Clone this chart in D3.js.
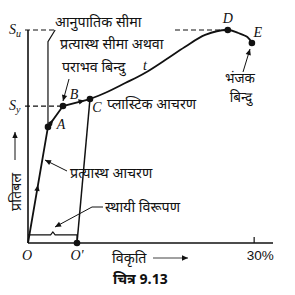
<!DOCTYPE html>
<html><head><meta charset="utf-8">
<script src="https://cdn.jsdelivr.net/npm/d3@7"></script>
<style>
body{margin:0;background:#fff;}
svg{display:block;}
.dev{font-family:"Noto Sans Devanagari","Lohit Devanagari","Mukta","Noto Sans",sans-serif;font-size:14.3px;fill:#111;}
.lat{font-family:"Liberation Serif","DejaVu Serif",serif;font-style:italic;font-size:14px;fill:#111;}
</style></head>
<body>
<svg id="c" width="295" height="295"></svg>
<script>
// ---- data (strain in %, stress as % of ultimate stress Su) ----
const loadingPath = [[0,0],[2.65,54.5],[4.64,64.3],[8.22,67.6]];
const plasticCurve = [[8.22,67.6],[10.2,70.4],[12.9,75.1],[15.5,79.8],[18.2,85.9],[20.8,92.0],[23.5,97.7],[26.5,100],[27.9,98.6],[29.1,96.7],[29.7,93.9]];
const unloadLine = [[8.22,67.6],[6.5,0]];
const keyPoints = [
  {name:"A", x:2.65, y:54.5},
  {name:"B", x:4.64, y:64.3},
  {name:"C", x:8.22, y:67.6},
  {name:"D", x:26.5, y:100},
  {name:"E", x:29.7, y:93.9},
  {name:"O'", x:6.5, y:0}
];
const stressLevels = [{name:"u", y:100},{name:"y", y:64.3}];
const xTicks = [30];
const xTickLabels = ["30%"];
const texts = {
  prop:"आनुपातिक सीमा", elastic1:"प्रत्यास्थ सीमा अथवा", elastic2:"पराभव बिन्दु",
  plastic:"प्लास्टिक आचरण", elasticBeh:"प्रत्यास्थ आचरण", perm:"स्थायी विरूपण",
  frac1:"भंजक", frac2:"बिन्दु", stress:"प्रतिबल", strain:"विकृति", fig:"चित्र 9.13"
};

const svg = d3.select("#c");
const x = d3.scaleLinear().domain([0,32.5]).range([28,273]);
const y = d3.scaleLinear().domain([0,100]).range([243,30]);
const line = d3.line().x(d=>x(d[0])).y(d=>y(d[1]));

function arrowHead(px,py,angle,size=6){
  const a=angle, s=size;
  const p1=[px - s*Math.cos(a) + s*0.45*Math.sin(a), py - s*Math.sin(a) - s*0.45*Math.cos(a)];
  const p2=[px - s*Math.cos(a) - s*0.45*Math.sin(a), py - s*Math.sin(a) + s*0.45*Math.cos(a)];
  svg.append("path").attr("d",`M${px},${py}L${p1[0]},${p1[1]}L${p2[0]},${p2[1]}Z`).attr("fill","#111");
}
function arrowLine(x1,y1,x2,y2,size=6,w=1){
  svg.append("line").attr("x1",x1).attr("y1",y1).attr("x2",x2).attr("y2",y2).attr("stroke","#111").attr("stroke-width",w);
  arrowHead(x2,y2,Math.atan2(y2-y1,x2-x1),size);
}
function arrowOn(p,q,t){
  const px=x(p[0])+(x(q[0])-x(p[0]))*t, py=y(p[1])+(y(q[1])-y(p[1]))*t;
  arrowHead(px,py,Math.atan2(y(q[1])-y(p[1]),x(q[0])-x(p[0])),6);
}

// axes
svg.append("line").attr("x1",x(0)).attr("x2",x(32.5)).attr("y1",y(0)).attr("y2",y(0)).attr("stroke","#111").attr("stroke-width",1.6);
svg.append("line").attr("x1",x(0)).attr("x2",x(0)).attr("y1",y(0)).attr("y2",y(100)).attr("stroke","#111").attr("stroke-width",1.6);
xTicks.forEach((t,i)=>{
  svg.append("line").attr("x1",x(t)).attr("x2",x(t)).attr("y1",y(0)).attr("y2",y(0)-6).attr("stroke","#111").attr("stroke-width",1.2);
  svg.append("text").attr("x",x(t)+6).attr("y",y(0)+17).attr("text-anchor","middle")
    .style("font-family","Liberation Sans, Arial, sans-serif").style("font-size","13.5px").attr("fill","#111").text(xTickLabels[i]);
});

// stress level dashed lines & labels
const su=stressLevels[0], sy=stressLevels[1];
svg.append("line").attr("x1",x(0)-3).attr("x2",x(3.6)).attr("y1",y(su.y)).attr("y2",y(su.y)).attr("stroke","#111").attr("stroke-width",1.2).attr("stroke-dasharray","5,3");
svg.append("line").attr("x1",x(19.5)).attr("x2",x(26.5)).attr("y1",y(su.y)).attr("y2",y(su.y)).attr("stroke","#111").attr("stroke-width",1.2).attr("stroke-dasharray","5,3");
svg.append("line").attr("x1",x(0)-3).attr("x2",x(4.64)).attr("y1",y(sy.y)).attr("y2",y(sy.y)).attr("stroke","#111").attr("stroke-width",1.2).attr("stroke-dasharray","5,3");
stressLevels.forEach(s=>{
  const t=svg.append("text").attr("class","lat").attr("x",9).attr("y",y(s.y)+4);
  t.append("tspan").text("S");
  t.append("tspan").attr("dy",3).style("font-size","10px").text(s.name);
});

// proportional limit leader
svg.append("path").attr("d",`M${x(3.6)},${y(100)} L${x(2.65)},${y(94.5)} L${x(2.65)},${y(54.5)}`).attr("fill","none").attr("stroke","#111").attr("stroke-width",1.2);

// curves
svg.append("path").attr("d",line(loadingPath)).attr("fill","none").attr("stroke","#111").attr("stroke-width",1.8);
svg.append("path").attr("d",line.curve(d3.curveCatmullRom)(plasticCurve)).attr("fill","none").attr("stroke","#111").attr("stroke-width",1.8);
line.curve(d3.curveLinear);
svg.append("path").attr("d",line(unloadLine)).attr("fill","none").attr("stroke","#111").attr("stroke-width",1.5);

// arrows along curve
arrowOn(loadingPath[0],loadingPath[1],0.5);
arrowOn(loadingPath[1],loadingPath[2],0.35);
arrowOn(loadingPath[2],loadingPath[3],0.8);

// points
svg.selectAll("circle.pt").data(keyPoints).join("circle").attr("class","pt")
  .attr("cx",d=>x(d.x)).attr("cy",d=>y(d.y)).attr("r",3.3).attr("fill","#111");

// point labels
const lblOff={A:[13,-3],B:[11,-12],C:[7,8],D:[0,-12],E:[6,-11]};
keyPoints.filter(d=>lblOff[d.name]).forEach(d=>{
  svg.append("text").attr("class","lat").attr("x",x(d.x)+lblOff[d.name][0]).attr("y",y(d.y)+lblOff[d.name][1]+5)
    .attr("text-anchor","middle").text(d.name);
});
svg.append("text").attr("class","lat").attr("x",x(0)-1).attr("y",y(0)+17).attr("text-anchor","middle").text("O");
svg.append("text").attr("class","lat").attr("x",x(6.5)).attr("y",y(0)+17).attr("text-anchor","middle").text("O'");
svg.append("text").attr("class","lat").attr("x",145).attr("y",70).attr("text-anchor","middle").text("t");

// brace for permanent set
const by=y(3.8);
svg.append("path").attr("d",`M${x(0)},${by} L${x(3.0)},${by} L${x(3.3)},${by-3} L${x(3.6)},${by} L${x(6.5)},${by} L${x(6.5)},${y(0)}`).attr("fill","none").attr("stroke","#111").attr("stroke-width",1.2);

// annotation texts
svg.append("text").attr("class","dev").attr("x",55).attr("y",27).text(texts.prop);
svg.append("text").attr("class","dev").attr("x",60).attr("y",49).text(texts.elastic1);
svg.append("text").attr("class","dev").attr("x",62).attr("y",72).text(texts.elastic2);
arrowLine(69,79,63,101,6);
svg.append("text").attr("class","dev").attr("x",107).attr("y",109).text(texts.plastic);
svg.append("text").attr("class","dev").attr("x",70).attr("y",178).text(texts.elasticBeh);
arrowLine(67,171,45,160,6);
svg.append("text").attr("class","dev").attr("x",105).attr("y",212).text(texts.perm);
svg.append("path").attr("d","M103,207 L92,207").attr("stroke","#111").attr("stroke-width",1);
arrowLine(92,207,55,227,6);
svg.append("text").attr("class","dev").style("font-size","13.5px").attr("x",240).attr("y",83).attr("text-anchor","middle").text(texts.frac1);
svg.append("text").attr("class","dev").style("font-size","13.5px").attr("x",241).attr("y",102).attr("text-anchor","middle").text(texts.frac2);
arrowLine(243,72,250,49,6);

// axis titles
svg.append("text").attr("class","dev").attr("transform","translate(21,192) rotate(-90)").attr("text-anchor","middle").text(texts.stress);
arrowLine(15,160,15,132,6);
svg.append("text").attr("class","dev").attr("x",112).attr("y",263).text(texts.strain);
arrowLine(153,258,188,258,6,0.8);
svg.append("text").attr("class","dev").attr("x",113).attr("y",284).style("font-weight","bold").text(texts.fig);
</script>
</body></html>
